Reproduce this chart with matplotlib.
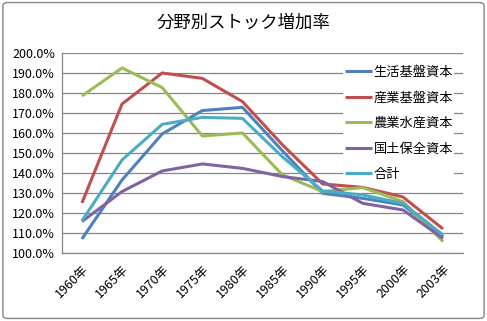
import matplotlib
matplotlib.use("Agg")
import matplotlib.pyplot as plt
from matplotlib.patches import FancyBboxPatch
from matplotlib.ticker import FuncFormatter, MultipleLocator

plt.rcParams["font.family"] = ["Noto Sans CJK JP", "DejaVu Sans"]

years = ["1960年", "1965年", "1970年", "1975年", "1980年",
         "1985年", "1990年", "1995年", "2000年", "2003年"]

seikatsu = [107.0, 136.5, 159.5, 171.2, 172.8, 151.0, 129.8, 127.3, 124.0, 108.2]
sangyo = [125.0, 174.5, 190.0, 187.3, 175.7, 154.0, 134.5, 132.8, 128.0, 112.0]
nogyo = [178.5, 192.5, 182.7, 158.5, 160.0, 139.0, 130.7, 132.7, 125.7, 105.7]
kokudo = [115.7, 130.7, 141.0, 144.5, 142.3, 138.2, 135.7, 124.8, 121.5, 107.3]
gokei = [116.0, 146.5, 164.3, 167.8, 167.3, 148.0, 131.0, 129.0, 124.8, 109.0]

series = [
    ("生活基盤資本", seikatsu, "#4F81BD"),
    ("産業基盤資本", sangyo, "#C0504D"),
    ("農業水産資本", nogyo, "#9BBB59"),
    ("国土保全資本", kokudo, "#8064A2"),
    ("合計", gokei, "#4BACC6"),
]

fig = plt.figure(figsize=(4.87, 3.21), dpi=100)
ax = fig.add_axes([0.127, 0.212, 0.824, 0.623])

x = list(range(len(years)))
for name, vals, color in series:
    ax.plot(x, vals, color=color, linewidth=2.2, label=name,
            solid_capstyle="butt")

ax.set_xlim(-0.5, len(years) - 0.5)
ax.set_ylim(100, 200)
ax.yaxis.set_major_locator(MultipleLocator(10))
ax.yaxis.set_major_formatter(FuncFormatter(lambda v, p: f"{v:.1f}%"))
ax.set_xticks(x)
ax.set_xticklabels(years, rotation=45, ha="right", va="top",
                   rotation_mode="anchor")
ax.tick_params(axis="both", length=0, labelsize=9, pad=5)
ax.tick_params(axis="x", pad=7)
ax.grid(axis="y", color="#868686", linewidth=0.9)
ax.set_axisbelow(True)
for s in ["top", "right"]:
    ax.spines[s].set_visible(False)
for s in ["left", "bottom"]:
    ax.spines[s].set_color("#868686")
    ax.spines[s].set_linewidth(0.9)

leg = ax.legend(loc="upper left", bbox_to_anchor=(0.685, 0.975),
                frameon=True, fontsize=9.5, handlelength=2.1,
                handletextpad=0.1, labelspacing=0.95, borderpad=0.1)
leg.get_frame().set_facecolor("white")
leg.get_frame().set_edgecolor("none")
leg.get_frame().set_alpha(1.0)

fig.text(0.5, 0.93, "分野別ストック増加率", ha="center", va="center",
         fontsize=12.5)

border = FancyBboxPatch((0.006, 0.008), 0.988, 0.984,
                        boxstyle="round,pad=0,rounding_size=0.01",
                        transform=fig.transFigure, fill=False,
                        edgecolor="#868686", linewidth=1.0)
fig.patches.append(border)

fig.savefig("out.png", dpi=100)
